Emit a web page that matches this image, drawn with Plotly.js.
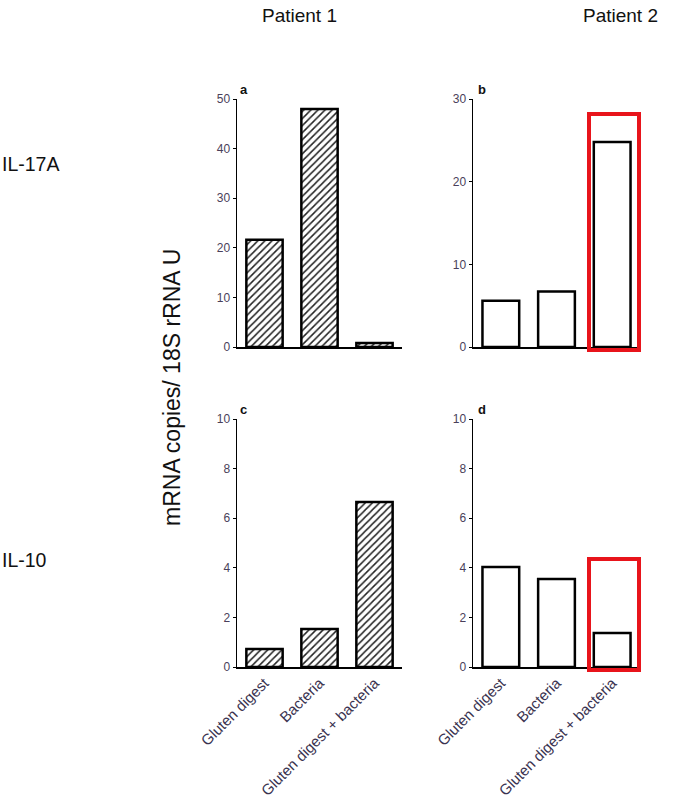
<!DOCTYPE html>
<html>
<head>
<meta charset="utf-8">
<script src="https://cdn.plot.ly/plotly-3.0.1.min.js"></script>
<style>html,body{margin:0;padding:0;background:#fff;}#chart{width:677px;height:802px;}</style>
</head>
<body>
<div id="chart"></div>
<script>
const categories = ["Gluten digest", "Bacteria", "Gluten digest + bacteria"];
const p1_IL17A = [21.6, 48.0, 0.8];
const p2_IL17A = [5.6, 6.7, 24.8];
const p1_IL10 = [0.73, 1.53, 6.65];
const p2_IL10 = [4.03, 3.55, 1.37];
const yTicksTop1 = [0, 10, 20, 30, 40, 50];
const yTicksTop2 = [0, 10, 20, 30];
const yTicksBottom = [0, 2, 4, 6, 8, 10];

const W = 677, H = 802;
const px = v => v / W, py = v => 1 - v / H;
const FONT = "Arial, Liberation Sans, sans-serif";

const hatched = {
  color: "#ffffff",
  line: {color: "#000", width: 2.5},
  pattern: {shape: "/", fgcolor: "#222", bgcolor: "#fff", size: 5, solidity: 0.3}
};
const plain = {color: "#ffffff", line: {color: "#000", width: 2.5}};

function bar(y, xa, ya, marker) {
  return {type: "bar", x: categories, y: y, xaxis: xa, yaxis: ya, width: 0.66,
          marker: marker, hoverinfo: "x+y", showlegend: false};
}

const data = [
  bar(p1_IL17A, "x", "y", hatched),
  bar(p2_IL17A, "x2", "y2", plain),
  bar(p1_IL10, "x3", "y3", hatched),
  bar(p2_IL10, "x4", "y4", plain)
];

const yTickFont = {family: FONT, size: 12, color: "#4a3f5a"};
const xTickFont = {family: FONT, size: 15, color: "#3a3350"};
function xax(dom, showLabels) {
  return {domain: dom, range: [-0.5, 2.5], showline: true, linecolor: "#000", linewidth: 1.5,
          ticks: "", showticklabels: showLabels, tickangle: -45, tickfont: xTickFont,
          showgrid: false, zeroline: false, fixedrange: true};
}
function yax(dom, range, tv, anchor) {
  return {domain: dom, range: range, tickvals: tv, showline: true, linecolor: "#000", linewidth: 1.5,
          ticks: "outside", ticklen: 3, tickwidth: 1, tickcolor: "#000", tickfont: yTickFont,
          showgrid: false, zeroline: false, anchor: anchor, fixedrange: true};
}

const xLeft = [px(237), px(402)];
const xRight = [px(473), px(640)];
const yTop = [py(347), py(99)];
const yBot = [py(667), py(419)];

function label(text, x, y, size, extra) {
  return Object.assign({text: text, xref: "paper", yref: "paper", x: x, y: y, xanchor: "center",
    yanchor: "middle", showarrow: false, font: {family: FONT, size: size, color: "#111"}}, extra || {});
}

const layout = {
  width: W, height: H,
  margin: {l: 0, r: 0, t: 0, b: 0},
  paper_bgcolor: "#fff", plot_bgcolor: "rgba(0,0,0,0)",
  xaxis: Object.assign(xax(xLeft, false), {anchor: "y"}),
  yaxis: yax(yTop, [0, 50], yTicksTop1, "x"),
  xaxis2: Object.assign(xax(xRight, false), {anchor: "y2"}),
  yaxis2: yax(yTop, [0, 30], yTicksTop2, "x2"),
  xaxis3: Object.assign(xax(xLeft, true), {anchor: "y3"}),
  yaxis3: yax(yBot, [0, 10], yTicksBottom, "x3"),
  xaxis4: Object.assign(xax(xRight, true), {anchor: "y4"}),
  yaxis4: yax(yBot, [0, 10], yTicksBottom, "x4"),
  shapes: [
    {type: "rect", xref: "paper", yref: "paper", x0: px(589), x1: px(639), y0: py(350), y1: py(114),
     line: {color: "#e8141b", width: 4}, fillcolor: "rgba(0,0,0,0)", layer: "above"},
    {type: "rect", xref: "paper", yref: "paper", x0: px(589), x1: px(639), y0: py(670), y1: py(559),
     line: {color: "#e8141b", width: 4}, fillcolor: "rgba(0,0,0,0)", layer: "above"}
  ],
  annotations: [
    label("Patient 1", px(299), py(16), 19),
    label("Patient 2", px(620), py(16), 19),
    label("IL-17A", 0, py(164), 19.5, {xanchor: "left"}),
    label("IL-10", 0, py(560), 19.5, {xanchor: "left"}),
    label("mRNA copies/ 18S rRNA U", px(172), py(388), 23, {textangle: -90}),
    label("<b>a</b>", px(238), py(89), 13, {xanchor: "left"}),
    label("<b>b</b>", px(476), py(89), 13, {xanchor: "left"}),
    label("<b>c</b>", px(238), py(409), 13, {xanchor: "left"}),
    label("<b>d</b>", px(476), py(409), 13, {xanchor: "left"})
  ]
};

Plotly.newPlot("chart", data, layout, {displayModeBar: false, staticPlot: true});
</script>
</body>
</html>
